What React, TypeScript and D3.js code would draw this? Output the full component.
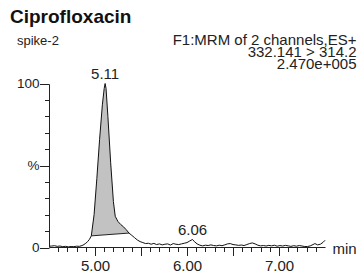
import React, { useEffect, useRef } from 'react';
import * as d3 from 'd3';

// retention time (min) and relative intensity (%)
const retentionTimes = [
    4.50, 4.53, 4.56, 4.59, 4.62, 4.65, 4.68, 4.71, 4.74, 4.77, 4.80, 4.83, 4.86, 4.88, 4.90,
    4.92, 4.94, 4.96, 4.99, 5.02, 5.05, 5.08, 5.10, 5.11, 5.12, 5.14, 5.17, 5.20, 5.22, 5.25,
    5.28, 5.31, 5.34, 5.37, 5.40, 5.43, 5.46, 5.49, 5.52, 5.55, 5.58, 5.61, 5.64, 5.67, 5.70,
    5.73, 5.76, 5.79, 5.82, 5.85, 5.88, 5.91, 5.94, 5.97, 6.00, 6.03, 6.06, 6.08, 6.11, 6.14,
    6.17, 6.20, 6.23, 6.26, 6.29, 6.32, 6.35, 6.38, 6.41, 6.44, 6.47, 6.50, 6.53, 6.56, 6.59,
    6.62, 6.65, 6.68, 6.71, 6.74, 6.77, 6.80, 6.83, 6.86, 6.89, 6.92, 6.95, 6.98, 7.01, 7.04,
    7.07, 7.10, 7.13, 7.16, 7.19, 7.22, 7.25, 7.28, 7.31, 7.34, 7.37, 7.39, 7.42, 7.45, 7.48,
    7.50
];
const intensities = [
    0.8, 0.9, 1.1, 0.7, 0.9, 0.5, 0.7, 0.4, 0.6, 0.5, 0.8, 0.7, 1.2, 1.8, 2.6,
    3.6, 5.0, 7.1, 20, 42, 66, 87, 97, 100, 97, 80, 52, 28, 19, 15.8,
    14.0, 12.6, 10.8, 8.8, 7.4, 6.0, 4.6, 3.6, 3.0, 2.4, 2.6, 2.0, 2.5, 1.8, 2.2,
    1.6, 2.0, 2.2, 1.5, 2.4, 2.0, 1.8, 2.2, 2.6, 3.0, 4.0, 4.9, 3.6, 2.2, 1.4,
    1.0, 1.4, 1.2, 1.6, 1.2, 1.0, 1.4, 1.1, 1.6, 2.2, 2.4, 1.8, 1.6, 1.3, 1.5,
    1.2, 1.8, 2.4, 2.8, 2.2, 1.4, 1.0, 1.2, 0.9, 1.3, 1.0, 1.4, 0.8, 1.2, 0.9,
    1.3, 1.0, 0.7, 1.1, 0.8, 1.2, 0.9, 0.6, 0.6, 1.0, 1.8, 2.4, 1.6, 2.0, 3.2,
    4.4
];

const peakTimes = [5.11, 6.06];
const peakLabels = ['5.11', '6.06'];

// integrated peak: start / end retention time
const integrationStart = 4.96;
const integrationEnd = 5.37;

const xMajorLabels = [5, 6, 7];
const yLabels = ['0', '%', '100'];

const title = 'Ciprofloxacin';
const sampleName = 'spike-2';
const headerLines = ['F1:MRM of 2 channels,ES+', '332.141 > 314.2', '2.470e+005'];

const FONT = '"Liberation Sans", Arial, sans-serif';

const Chromatogram: React.FC = () => {
    const svgRef = useRef<SVGSVGElement>(null);

    useEffect(() => {
        if (!svgRef.current) return;
        const svg = d3.select(svgRef.current);
        svg.selectAll('*').remove();

        const data = retentionTimes.map((t, i) => ({ t, v: intensities[i] }));

        const x = d3.scaleLinear().domain([4.5, 7.5]).range([49, 325]);
        const y = d3.scaleLinear().domain([0, 100]).range([247.5, 83.5]);
        const axisX = 49.5;
        const axisY = 247.5;

        // header texts
        svg.append('text')
            .attr('x', 10).attr('y', 23)
            .attr('font-family', FONT).attr('font-size', 19).attr('font-weight', 'bold')
            .attr('fill', '#111')
            .text(title);
        svg.append('text')
            .attr('x', 17).attr('y', 44.5)
            .attr('font-family', FONT).attr('font-size', 13)
            .attr('fill', '#222')
            .text(sampleName);
        headerLines.forEach((s, i) => {
            svg.append('text')
                .attr('x', 356.5).attr('y', 44.8 + i * 12.2)
                .attr('text-anchor', 'end')
                .attr('font-family', FONT).attr('font-size', 15)
                .attr('fill', '#222')
                .text(s);
        });

        // integrated area
        const inPeak = data.filter(d => d.t >= integrationStart - 1e-9 && d.t <= integrationEnd + 1e-9);
        const areaLine = d3.line<{ t: number; v: number }>()
            .x(d => x(d.t))
            .y(d => y(d.v));
        svg.append('path')
            .attr('d', areaLine(inPeak) + 'Z')
            .attr('fill', '#c2c2c2')
            .attr('stroke', 'none');
        const first = inPeak[0];
        const last = inPeak[inPeak.length - 1];
        svg.append('line')
            .attr('x1', x(first.t)).attr('y1', y(first.v))
            .attr('x2', x(last.t)).attr('y2', y(last.v))
            .attr('stroke', '#222').attr('stroke-width', 1);

        // trace
        svg.append('path')
            .datum(data)
            .attr('d', areaLine)
            .attr('fill', 'none')
            .attr('stroke', '#111')
            .attr('stroke-width', 1)
            .attr('stroke-linejoin', 'round');

        // y axis
        const g = svg.append('g').attr('stroke', '#222').attr('stroke-width', 1);
        g.append('line')
            .attr('x1', axisX).attr('x2', axisX)
            .attr('y1', Math.round(y(100)) + 0.5).attr('y2', axisY);
        d3.range(0, 101, 10).forEach(v => {
            const major = v % 50 === 0;
            const yy = Math.round(y(v)) + 0.5;
            g.append('line')
                .attr('x1', axisX - (major ? 9.5 : 4.5)).attr('x2', axisX)
                .attr('y1', yy).attr('y2', yy);
        });
        [0, 50, 100].forEach((v, i) => {
            svg.append('text')
                .attr('x', 39.5).attr('y', y(v))
                .attr('dy', '0.36em')
                .attr('text-anchor', 'end')
                .attr('font-family', FONT).attr('font-size', 13.5)
                .attr('fill', '#222')
                .text(yLabels[i]);
        });

        // x axis
        g.append('line')
            .attr('x1', axisX).attr('x2', x(7.5) + 0.5)
            .attr('y1', axisY).attr('y2', axisY);
        d3.range(46, 75).forEach(k => {
            const t = k / 10;
            const major = k % 5 === 0;
            const xx = Math.round(x(t)) + 0.5;
            g.append('line')
                .attr('x1', xx).attr('x2', xx)
                .attr('y1', axisY).attr('y2', axisY + (major ? 8.5 : 4.5));
        });
        xMajorLabels.forEach(t => {
            svg.append('text')
                .attr('x', x(t) + 0.5).attr('y', 271)
                .attr('text-anchor', 'middle')
                .attr('font-family', FONT).attr('font-size', 15)
                .attr('fill', '#222')
                .text(d3.format('.2f')(t));
        });
        svg.append('text')
            .attr('x', 332.5).attr('y', 253.5)
            .attr('font-family', FONT).attr('font-size', 15)
            .attr('fill', '#222')
            .text('min');

        // peak labels
        peakTimes.forEach((t, i) => {
            const idx = d3.minIndex(retentionTimes, r => Math.abs(r - t));
            svg.append('text')
                .attr('x', x(t)).attr('y', y(intensities[idx]) - 4.5)
                .attr('text-anchor', 'middle')
                .attr('font-family', FONT).attr('font-size', 15)
                .attr('fill', '#222')
                .text(peakLabels[i]);
        });
    }, []);

    return (
        <svg ref={svgRef} width={360} height={279}
            style={{ position: 'absolute', left: 0, top: 0, background: '#fff' }} />
    );
};

export default function App() {
    return <Chromatogram />;
}
